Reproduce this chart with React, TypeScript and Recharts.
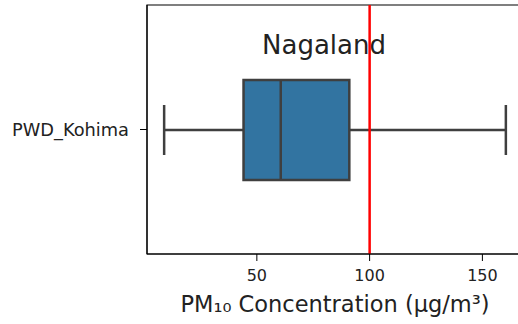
import { ComposedChart, Bar, XAxis, YAxis, ReferenceLine, ReferenceArea } from "recharts";

const stations = ["PWD_Kohima"];
const whiskerLow = [8.9];
const quartile1 = [44.1];
const medians = [60.6];
const quartile3 = [91.0];
const whiskerHigh = [160.4];
const limitValue = 100;
const xTicks = [50, 100, 150];
const xDomain = [1.3, 168];

const data = stations.map((station, i) => ({
  station,
  box: [quartile1[i], quartile3[i]],
  low: whiskerLow[i],
  q1: quartile1[i],
  med: medians[i],
  q3: quartile3[i],
  high: whiskerHigh[i],
}));

const FONT = "DejaVu Sans";
const LINE = "#3f3f3f";

// draws the whole box + whiskers from the bar rect the library gives us
function BoxShape(props: any) {
  const { x, y, width, height, payload } = props;
  const ppu = width / (payload.q3 - payload.q1);
  const px = (v: number) => x + (v - payload.q1) * ppu;
  const cy = y + height / 2;
  const cap = height / 4;
  return (
    <g>
      <line x1={px(payload.low)} x2={x} y1={cy} y2={cy} stroke={LINE} strokeWidth={2.5} />
      <line x1={x + width} x2={px(payload.high)} y1={cy} y2={cy} stroke={LINE} strokeWidth={2.5} />
      <line x1={px(payload.low)} x2={px(payload.low)} y1={cy - cap} y2={cy + cap} stroke={LINE} strokeWidth={2.5} />
      <line x1={px(payload.high)} x2={px(payload.high)} y1={cy - cap} y2={cy + cap} stroke={LINE} strokeWidth={2.5} />
      <rect x={x} y={y} width={width} height={height} fill="#3274a1" stroke={LINE} strokeWidth={2.5} />
      <line x1={px(payload.med)} x2={px(payload.med)} y1={y} y2={y + height} stroke={LINE} strokeWidth={2.5} />
    </g>
  );
}

export default function App() {
  return (
    <div
      style={{
        position: "fixed",
        left: 0,
        top: 0,
        width: 518,
        height: 324,
        overflow: "hidden",
        background: "#fff",
      }}
    >
      <ComposedChart
        width={530}
        height={324}
        data={data}
        layout="vertical"
        margin={{ top: 5, right: 7, left: 0, bottom: 0 }}
        style={{ fontFamily: FONT }}
      >
        {/* plot frame (spines) */}
        <ReferenceArea
          x1={xDomain[0]}
          x2={xDomain[1]}
          fill="none"
          fillOpacity={0}
          stroke="#000"
          strokeWidth={1.2}
          ifOverflow="visible"
        />
        <XAxis
          type="number"
          domain={xDomain}
          ticks={xTicks}
          allowDataOverflow
          height={70}
          stroke="#000"
          tickSize={7}
          tickMargin={9}
          tick={{ fontSize: 16, fill: "#222", fontFamily: FONT }}
          label={{
            value: "PM₁₀ Concentration (μg/m³)",
            position: "insideBottom",
            offset: 12,
            fontSize: 22.5,
            fill: "#222",
            fontFamily: FONT,
          }}
        />
        <YAxis
          type="category"
          dataKey="station"
          width={147}
          stroke="#000"
          tickSize={7}
          tickMargin={11}
          tick={{ fontSize: 17.8, fill: "#222", fontFamily: FONT }}
        />
        <Bar dataKey="box" barSize={100} shape={BoxShape} isAnimationActive={false} />
        <ReferenceLine x={limitValue} stroke="#ff0000" strokeWidth={2.5} />
        <text x={324} y={54} textAnchor="middle" fontSize={26} fill="#222" fontFamily={FONT}>
          Nagaland
        </text>
      </ComposedChart>
    </div>
  );
}
